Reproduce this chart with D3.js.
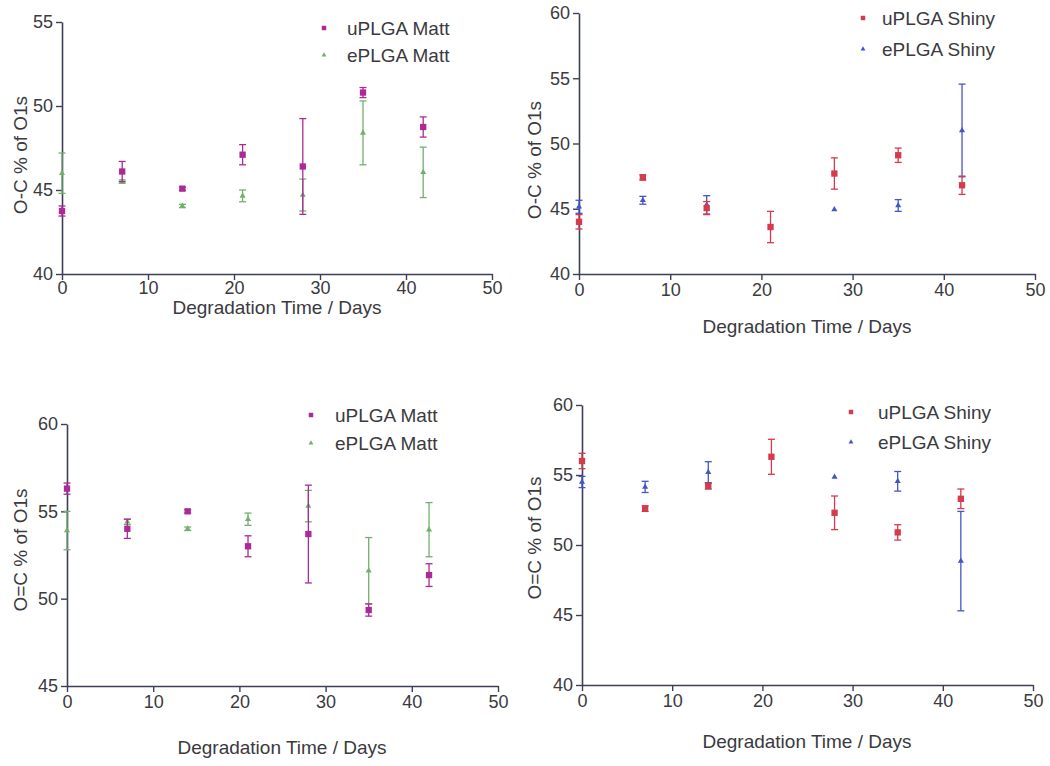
<!DOCTYPE html>
<html>
<head>
<meta charset="utf-8">
<script src="https://cdn.jsdelivr.net/npm/d3@7"></script>
<style>
  html, body { margin: 0; padding: 0; background: #ffffff; }
  svg { display: block; font-family: "Liberation Sans", Arial, sans-serif; }
</style>
</head>
<body>
<svg id="chart" width="1050" height="766"></svg>
<script>
// Sampling days
const days = [0, 7, 14, 21, 28, 35, 42];
const xTicks = [0, 10, 20, 30, 40, 50];

// O-C % of O1s, matt surfaces
const ocMattU = [43.75, 46.1, 45.08, 47.1, 46.4, 50.8, 48.75];
const ocMattUErr = [0.3, 0.6, 0.1, 0.6, 2.85, 0.3, 0.6];
const ocMattE = [46.0, 45.5, 44.05, 44.65, 44.7, 48.4, 46.05];
const ocMattEErr = [1.2, 0.1, 0.1, 0.35, 0.95, 1.9, 1.5];

// O-C % of O1s, shiny surfaces
const ocShinyU = [44.0, 47.4, 45.05, 43.6, 47.7, 49.1, 46.8];
const ocShinyUErr = [0.55, 0.2, 0.5, 1.2, 1.2, 0.55, 0.7];
const ocShinyE = [45.15, 45.65, 45.3, null, 44.95, 45.25, 51.0];
const ocShinyEErr = [0.5, 0.3, 0.7, null, 0.05, 0.45, 3.55];

// O=C % of O1s, matt surfaces
const dcMattU = [56.3, 54.0, 55.0, 53.0, 53.7, 49.35, 51.35];
const dcMattUErr = [0.32, 0.55, 0.1, 0.6, 2.8, 0.35, 0.65];
const dcMattE = [53.9, 54.4, 54.0, 54.55, 55.3, 51.6, 53.95];
const dcMattEErr = [1.1, 0.15, 0.1, 0.35, 0.9, 1.9, 1.55];

// O=C % of O1s, shiny surfaces
const dcShinyU = [56.0, 52.6, 54.2, 56.3, 52.3, 50.9, 53.3];
const dcShinyUErr = [0.55, 0.2, 0.2, 1.25, 1.2, 0.55, 0.7];
const dcShinyE = [54.5, 54.15, 55.2, null, 54.85, 54.55, 48.85];
const dcShinyEErr = [0.4, 0.4, 0.75, null, 0.05, 0.7, 3.55];

const colors = { magenta: "#ac2a97", green: "#72b06c", red: "#d43b4c", blue: "#4356c4" };
const axisColor = "#3d3f58";
const textColor = "#3a3a40";

function series(name, vals, errs, color, shape) {
  return { name, color, shape, pts: days.map((d, i) => ({ d, v: vals[i], e: errs[i] })).filter(p => p.v != null) };
}

const panels = [
  {
    ylab: "O-C % of O1s", x: [62, 492], y: [274, 22], dom: [40, 55], ticks: [40, 45, 50, 55],
    xt: [277, 314], yt: [20, 155], pad: 1, leg: { mx: 324, tx: 347, rows: [28, 55] },
    s: [series("ePLGA Matt", ocMattE, ocMattEErr, colors.green, "tri"),
        series("uPLGA Matt", ocMattU, ocMattUErr, colors.magenta, "sq")],
    legOrder: [1, 0]
  },
  {
    ylab: "O-C % of O1s", x: [579, 1035], y: [274, 13], dom: [40, 60], ticks: [40, 45, 50, 55, 60],
    xt: [807, 333], yt: [534, 160], pad: 3, leg: { mx: 863, tx: 882, rows: [18, 49] },
    s: [series("ePLGA Shiny", ocShinyE, ocShinyEErr, colors.blue, "tri"),
        series("uPLGA Shiny", ocShinyU, ocShinyUErr, colors.red, "sq")],
    legOrder: [1, 0]
  },
  {
    ylab: "O=C % of O1s", x: [67, 498], y: [686, 424], dom: [45, 60], ticks: [45, 50, 55, 60],
    xt: [282, 754], yt: [20, 550], pad: 3, leg: { mx: 311, tx: 335, rows: [415, 443] },
    s: [series("ePLGA Matt", dcMattE, dcMattEErr, colors.green, "tri"),
        series("uPLGA Matt", dcMattU, dcMattUErr, colors.magenta, "sq")],
    legOrder: [1, 0]
  },
  {
    ylab: "O=C % of O1s", x: [582, 1033], y: [685, 405], dom: [40, 60], ticks: [40, 45, 50, 55, 60],
    xt: [807, 748], yt: [534, 538], pad: 3, leg: { mx: 851, tx: 878, rows: [412, 442] },
    s: [series("ePLGA Shiny", dcShinyE, dcShinyEErr, colors.blue, "tri"),
        series("uPLGA Shiny", dcShinyU, dcShinyUErr, colors.red, "sq")],
    legOrder: [1, 0]
  }
];

const svg = d3.select("#chart");
const sqSym = d3.symbol().type(d3.symbolSquare).size(40);
const triSym = d3.symbol().type(d3.symbolTriangle).size(16);

panels.forEach(p => {
  const g = svg.append("g");
  const xs = d3.scaleLinear().domain([0, 50]).range(p.x);
  const ys = d3.scaleLinear().domain(p.dom).range(p.y);

  // axes
  const xa = g.append("g").attr("transform", `translate(0,${p.y[0]})`)
    .call(d3.axisBottom(xs).tickValues(xTicks).tickSize(6).tickSizeOuter(0).tickPadding(p.pad));
  const ya = g.append("g").attr("transform", `translate(${p.x[0]},0)`)
    .call(d3.axisLeft(ys).tickValues(p.ticks).tickSize(6).tickSizeOuter(0).tickPadding(3));
  [xa, ya].forEach(a => {
    a.select(".domain").attr("stroke", axisColor).attr("stroke-width", 1.6);
    a.selectAll(".tick line").attr("stroke", axisColor).attr("stroke-width", 1.4);
    a.selectAll(".tick text").attr("fill", textColor).style("font-size", "18px");
  });

  // axis titles
  g.append("text").attr("x", p.xt[0]).attr("y", p.xt[1]).attr("text-anchor", "middle")
    .attr("fill", textColor).style("font-size", "19px").text("Degradation Time / Days");
  g.append("text").attr("transform", `translate(${p.yt[0]},${p.yt[1]}) rotate(-90)`)
    .attr("text-anchor", "middle").attr("dominant-baseline", "central")
    .attr("fill", textColor).style("font-size", "19px").text(p.ylab);

  // error bars and markers
  p.s.forEach(s => {
    const sg = g.append("g");
    const eb = sg.selectAll("g.eb").data(s.pts.filter(d => d.e > 0.08)).join("g");
    eb.append("line").attr("x1", d => xs(d.d)).attr("x2", d => xs(d.d))
      .attr("y1", d => ys(d.v - d.e)).attr("y2", d => ys(d.v + d.e))
      .attr("stroke", s.color).attr("stroke-width", 1.3);
    [-1, 1].forEach(sign => {
      eb.append("line").attr("x1", d => xs(d.d) - 3.5).attr("x2", d => xs(d.d) + 3.5)
        .attr("y1", d => ys(d.v + sign * d.e)).attr("y2", d => ys(d.v + sign * d.e))
        .attr("stroke", s.color).attr("stroke-width", 1.3);
    });
    sg.selectAll("path.mk").data(s.pts).join("path")
      .attr("transform", d => `translate(${xs(d.d)},${ys(d.v)})`)
      .attr("d", s.shape === "sq" ? sqSym : triSym)
      .attr("fill", s.color);
  });

  // legend
  p.legOrder.forEach((si, k) => {
    const s = p.s[si];
    const yy = p.leg.rows[k];
    g.append("path").attr("transform", `translate(${p.leg.mx},${yy})`)
      .attr("d", s.shape === "sq" ? d3.symbol().type(d3.symbolSquare).size(20) : d3.symbol().type(d3.symbolTriangle).size(10))
      .attr("fill", s.color);
    g.append("text").attr("x", p.leg.tx).attr("y", yy).attr("dominant-baseline", "central")
      .attr("fill", textColor).style("font-size", "19px").text(s.name);
  });
});
</script>
</body>
</html>
